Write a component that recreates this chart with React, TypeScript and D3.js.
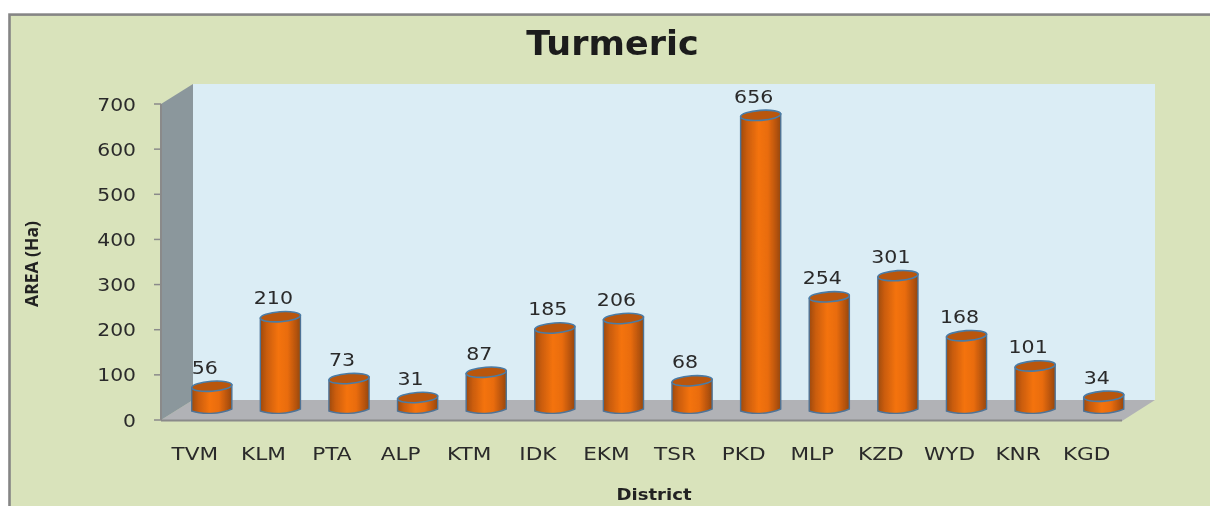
import React from "react";
import * as d3 from "d3";

const categories = ["TVM","KLM","PTA","ALP","KTM","IDK","EKM","TSR","PKD","MLP","KZD","WYD","KNR","KGD"];
const areaValues = [56,210,73,31,87,185,206,68,656,254,301,168,101,34];
const yTicks = [0,100,200,300,400,500,600,700];

const FONT = "'DejaVu Sans', sans-serif";

function Txt({ x, y, sx = 1, size, anchor = "middle", weight = "normal", fill = "#2a2a2a", family = FONT, children }: any) {
  return (
    <text transform={`translate(${x},${y}) scale(${sx},1)`} textAnchor={anchor} fontFamily={family} fontSize={size} fontWeight={weight} fill={fill}>
      {children}
    </text>
  );
}

export default function App() {
  const y = d3.scaleLinear().domain([0, 700]).range([420, 104]);
  const barY = d3.scaleLinear().domain([0, 700]).range([413, 97]);
  const x = d3.scaleBand<string>().domain(categories).range([177.5, 1138]).paddingInner(0.415).paddingOuter(0.207);
  const w = x.bandwidth();
  return (
    <svg width={1210} height={506} style={{ position: "absolute", left: 0, top: 0 }}>
      <defs>
        <linearGradient id="cyl" x1="0" x2="1" y1="0" y2="0">
          <stop offset="0" stopColor="#9e4a0c" />
          <stop offset="0.16" stopColor="#c95c0a" />
          <stop offset="0.45" stopColor="#f4730b" />
          <stop offset="0.68" stopColor="#e96c0a" />
          <stop offset="0.88" stopColor="#b85408" />
          <stop offset="1" stopColor="#964809" />
        </linearGradient>
        <filter id="soft" x="-5%" y="-5%" width="110%" height="110%">
          <feGaussianBlur stdDeviation="0.6" />
        </filter>
      </defs>
      <rect width={1210} height={506} fill="#ffffff" />
      <g filter="url(#soft)">
        <rect x={9.5} y={14.6} width={1230} height={520} fill="#d9e3bb" stroke="#858585" strokeWidth={2.6} />
        <Txt x={612.5} y={55} sx={1.06} size={33} weight="bold" fill="#1c1c1c">Turmeric</Txt>
        <polygon points="193,84 1155,84 1155,400 193,400" fill="#dbedf5" />
        <polygon points="161,420 193,400 1155,400 1122,421 161,421" fill="#b1b2b6" />
        <polygon points="161,104 193,84 193,400 161,420" fill="#8b979c" />
        <line x1={161} x2={1122} y1={420.5} y2={420.5} stroke="#8a8a8a" strokeWidth={2} />
        <line x1={161} x2={161} y1={104} y2={420} stroke="#8a8a8a" strokeWidth={2} />
        {yTicks.map((t) => (
          <g key={t}>
            <line x1={154} x2={161} y1={y(t)} y2={y(t)} stroke="#8a8a8a" strokeWidth={1.5} />
            <Txt x={136} y={y(t) + 6.5} sx={1.13} size={18} anchor="end">{t}</Txt>
          </g>
        ))}
        {categories.map((c, i) => {
          const v = areaValues[i];
          const left = x(c)!;
          const right = left + w;
          const cx = left + w / 2;
          const top = barY(v);
          const bot = barY(0);
          const path = `M${left},${top} L${left},${bot - 2} C${left + w * 0.25},${bot + 1.5} ${left + w * 0.7},${bot + 1.5} ${right},${bot - 4} L${right},${top - 3} Z`;
          return (
            <g key={c}>
              <path d={path} fill="url(#cyl)" stroke="#4f7396" strokeWidth={1.4} />
              <ellipse cx={cx} cy={top - 1.5} rx={w / 2} ry={5} transform={`rotate(-4 ${cx} ${top - 1.5})`} fill="#b9570a" stroke="#4a7ba6" strokeWidth={1.6} />
              <Txt x={cx - 17} y={460} sx={1.2} size={18}>{c}</Txt>
              <Txt x={cx - 7} y={top - 14} sx={1.14} size={18}>{v}</Txt>
            </g>
          );
        })}
        <text transform="translate(38,264) rotate(-90)" textAnchor="middle" fontFamily="'Open Sans', sans-serif" fontWeight="bold" fontSize={17.5} fill="#222">AREA (Ha)</text>
        <Txt x={654} y={500} sx={1.13} size={16} weight="bold" fill="#222">District</Txt>
      </g>
    </svg>
  );
}
